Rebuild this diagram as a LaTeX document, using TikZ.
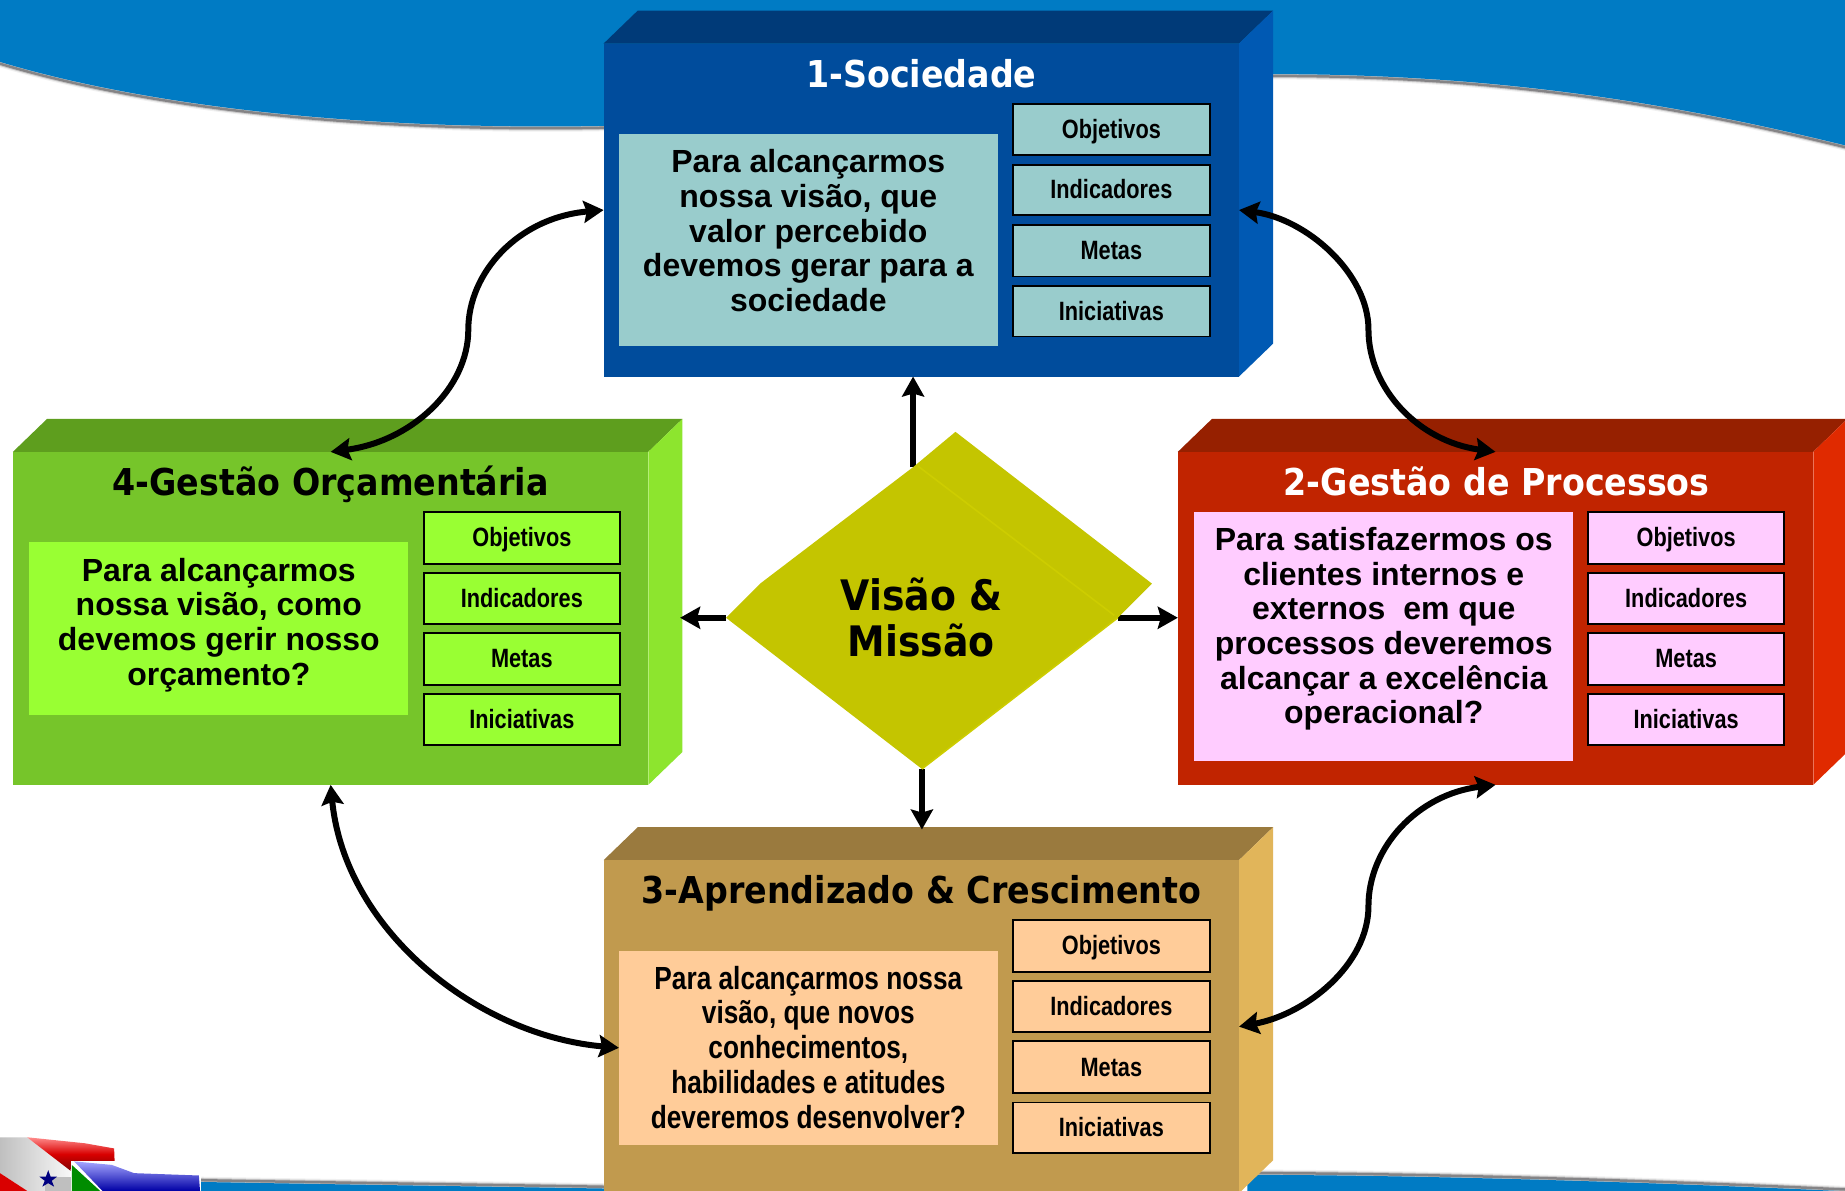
\documentclass[tikz,border=0pt]{standalone}
\usepackage{fontspec}
\usetikzlibrary{arrows.meta,calc}
\setmainfont{Liberation Sans}
\newfontfamily\narrowf[FakeStretch=0.82]{Liberation Sans}
\newfontfamily\titlef[FakeStretch=0.9]{DejaVu Sans}
\definecolor{wave}{HTML}{007BC4}
\definecolor{dia}{HTML}{C4C500}
\definecolor{diaedge}{HTML}{CDCD00}
\definecolor{shade}{HTML}{6F6E70}
\definecolor{aF}{HTML}{004C9C}\definecolor{aT}{HTML}{003A78}\definecolor{aS}{HTML}{0059B3}\definecolor{aP}{HTML}{99CCCC}
\definecolor{bF}{HTML}{C12400}\definecolor{bT}{HTML}{962000}\definecolor{bS}{HTML}{E02A00}\definecolor{bP}{HTML}{FFCCFF}
\definecolor{cF}{HTML}{C19A4E}\definecolor{cT}{HTML}{9A7A3E}\definecolor{cS}{HTML}{E1B55A}\definecolor{cP}{HTML}{FFCC99}
\definecolor{dF}{HTML}{76C52A}\definecolor{dT}{HTML}{5E9E1E}\definecolor{dS}{HTML}{8DE52E}\definecolor{dP}{HTML}{99FF33}
\tikzset{
  sz/.style 2 args={minimum width=#1*1.1767pt,minimum height=#2*1.1767pt},
  flat/.style={inner sep=0pt,outer sep=0pt,anchor=north west},
  smallbox/.style={flat,draw=black,line width=1.9pt,sz={167}{44},text height=22pt,text depth=4.2pt,font=\narrowf\bfseries\fontsize{26.5}{28}\selectfont},
  bodytext/.style={align=center,inner sep=0pt,font=\bfseries\fontsize{32}{34.7}\selectfont},
  narrowtext/.style={align=center,inner sep=0pt,font=\narrowf\bfseries\fontsize{32}{34.7}\selectfont},
  boxtitle/.style={inner sep=0pt,text height=28pt,text depth=8pt,font=\titlef\bfseries\fontsize{37}{40}\selectfont},
  arw/.style={line width=6pt,-{Stealth[length=20pt,width=22pt,inset=3pt]}},
  darw/.style={line width=6pt,{Stealth[length=20pt,width=22pt,inset=3pt]}-{Stealth[length=20pt,width=22pt,inset=3pt]}},
  softA/.style={line width=7pt,color=shade,opacity=.10},
  softB/.style={line width=4.5pt,color=shade,opacity=.30},
  softC/.style={line width=2.5pt,color=shade,opacity=.75}
}
% name, x, y, letter of colour
\newcommand{\perspbox}[4]{%
  \fill[#4T] (#2,#3) -- ++(29,-28) -- ++(540,0) -- ++(-29,28) -- cycle;
  \fill[#4S] (#2+540,#3) -- ++(29,-28) -- ++(0,283) -- ++(-29,28) -- cycle;
  \node[flat,fill=#4F,sz={540}{283}] (#1) at (#2,#3) {};
}
\newcommand{\fourboxes}[4]{%
  \node[smallbox,fill=#4P] (#1o) at (#2,#3) {Objetivos};
  \node[smallbox,fill=#4P,minimum height=43*1.1767pt] (#1i) at (#2,#3+52) {Indicadores};
  \node[smallbox,fill=#4P] (#1m) at (#2,#3+103) {Metas};
  \node[smallbox,fill=#4P,minimum height=43*1.1767pt] (#1n) at (#2,#3+155) {Iniciativas};
}
\newcommand{\softedge}[1]{\draw[softA] #1;\draw[softB] #1;\draw[softC] #1;}
\def\waveTop{(-2,53.5) .. controls (120,90.5) and (300,112.5) .. (513,108.5) .. controls (700,104.5) and (900,64.5) .. (1083,64.5) .. controls (1280,64.5) and (1430,91) .. (1570,125.5)}
\def\waveBotA{(171,1003) .. controls (280,1005) and (420,1007) .. (600,1010)}
\def\waveBotB{(1060,997) .. controls (1200,997) and (1400,1003) .. (1570,1011)}
\begin{document}
\begin{tikzpicture}[x=1.1767pt,y=-1.1767pt]
\useasboundingbox (0,0) rectangle (1568,1011.35);
\clip (0,0) rectangle (1568,1011.35);
\fill[white] (0,0) rectangle (1568,1011.35);
% top wave
\softedge{\waveTop}
\fill[wave] (-2,52) .. controls (120,89) and (300,111) .. (513,107)
  .. controls (700,103) and (900,63) .. (1083,63)
  .. controls (1280,63) and (1430,89.5) .. (1570,124) -- (1570,-2) -- (-2,-2) -- cycle;
% bottom wave
\softedge{\waveBotA}
\fill[wave] (171,1004.5) .. controls (280,1006.5) and (420,1008.5) .. (600,1011.5) -- (600,1013) -- (171,1013) -- cycle;
\softedge{\waveBotB}
\fill[wave] (1060,998.5) .. controls (1200,998.5) and (1400,1004.5) .. (1570,1012.5) -- (1570,1013) -- (1060,1013) -- cycle;
% flags
\shade[left color=black!25,right color=black!3] (0,966.5) -- (23,966.5) -- (60,995) -- (60,1012) -- (23,1012) -- (0,997) -- cycle;
\fill[black!25] (38,1000) rectangle (60,1012);
\shade[top color=red!45!white,bottom color=red!50!black,middle color=red!85!black] (23,966.5) -- (72,971.6) -- (97,976) -- (97.4,987) -- (60.6,987.8) -- (60,995) -- cycle;
\fill[red!85!black] (0,997) -- (23,1012) -- (0,1012) -- cycle;
\fill[blue!50!black] (41,994.5) -- (43,1000) -- (48.5,1000) -- (44,1003.5) -- (46,1008.5) -- (41,1005.5) -- (36,1008.5) -- (38,1003.5) -- (33.5,1000) -- (39,1000) -- cycle;
\fill[white] (60,987) rectangle (170.8,1012);
\shade[top color=blue!35!white,middle color=blue!90!black,bottom color=blue!65!black] (63,987) -- (95,990) -- (114,997) -- (169,999) -- (170,1012) -- (87,1012) -- cycle;
\fill[green!55!black] (61,990) -- (85,1012) -- (61,1012) -- cycle;
% boxes
\perspbox{s1}{513}{37}{a}
\perspbox{s4}{11}{384}{d}
\perspbox{s2}{1001}{384}{b}
\perspbox{s3}{513}{731}{c}
\node[flat,fill=aP,sz={322}{180}] (p1) at (526,114) {};
\node[flat,fill=dP,sz={322}{147}] (p4) at (25,461) {};
\node[flat,fill=bP,sz={322}{212}] (p2) at (1015,435) {};
\node[flat,fill=cP,sz={322}{165}] (p3) at (526,808) {};
\fourboxes{a}{861}{88}{a}
\fourboxes{d}{360}{435}{d}
\fourboxes{b}{1349.5}{435}{b}
\fourboxes{c}{861}{782}{c}
\node[boxtitle,text=white] (t1) at (783,65.5) {1-Sociedade};
\node[boxtitle,text=black] (t4) at (281,412.5) {4-Gestão Orçamentária};
\node[boxtitle,text=white] (t2) at (1272,412.5) {2-Gestão de Processos};
\node[boxtitle,text=black] (t3) at (783,759.5) {3-Aprendizado \& Crescimento};
\node[bodytext] (q1) at (687,196) {Para alcançarmos\\nossa visão, que\\valor percebido\\devemos gerar para a\\sociedade};
\node[bodytext] (q4) at (186,531) {Para alcançarmos\\nossa visão, como\\devemos gerir nosso\\orçamento?};
\node[bodytext] (q2) at (1176,534.5) {Para satisfazermos os\\clientes internos e\\externos\ \ em que\\processos deveremos\\alcançar a excelência\\operacional?};
\node[narrowtext] (q3) at (687,890) {Para alcançarmos nossa\\visão, que novos\\conhecimentos,\\habilidades e atitudes\\deveremos desenvolver?};
% diamond corners and connector ends
\coordinate (dN) at (776,397);
\coordinate (dW) at (617,525);
\coordinate (dE) at (950,525);
\coordinate (dS) at (783.5,653.5);
\coordinate (s4side) at (578,525);
\coordinate (s3top) at (783.5,705);
\coordinate (mTL) at (398,280);
\coordinate (mTR) at (1163,280);
\coordinate (mBR) at (1163,770);
% connectors
\draw[arw] (dN) -- (dN |- s1.south);
\draw[arw] (dW) -- (s4side);
\draw[arw] (dE) -- (s2.west |- dE);
\draw[arw] (dS) -- (s3top);
\draw[darw] (s1.west) .. controls (440,185) and (398,232) .. (mTL) .. controls (398,330) and (350,375) .. (s4.north);
\draw[darw] (s1.east) .. controls (1110,186) and (1163,232) .. (mTR) .. controls (1163,330) and (1205,375) .. (s2.north);
\draw[darw] (s2.south) .. controls (1205,675) and (1163,720) .. (mBR) .. controls (1163,820) and (1110,862) .. (s3.east);
\draw[darw] (s4.south) .. controls (293,790) and (405,880) .. (p3.west);
% diamond
\fill[dia] (812,367) -- (979,496) -- (950,525) -- (783.5,653.5) -- (617,525) -- (646,496) -- (776,397) -- cycle;
\draw[diaedge,line width=1.6pt] (780,396) -- (947,523);
\draw[diaedge,line width=1.6pt] (950,525) -- (783.5,653.5);
\node[align=center,inner sep=0pt,font=\titlef\bfseries\fontsize{42}{46}\selectfont] (vm) at (783,525) {Visão \&\\Missão};
\end{tikzpicture}
\end{document}
